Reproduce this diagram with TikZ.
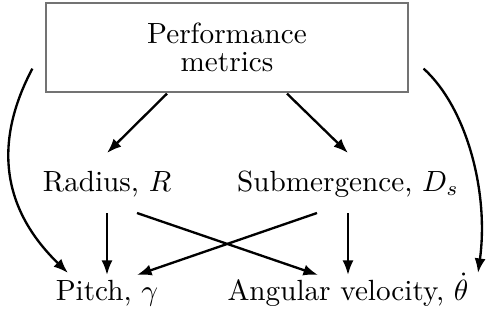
\documentclass[tikz,border=0pt]{standalone}
\usetikzlibrary{calc,arrows.meta}
\begin{document}
\begin{tikzpicture}[x=0.3425pt,y=-0.3425pt,
  conn/.style={line width=0.8pt,-{Latex[length=5pt,width=3.8pt]}},
  metricbox/.style={draw=black!55,line width=0.4pt,minimum width=124pt,minimum height=30.5pt,align=center,inner sep=0pt},
  lbl/.style={anchor=base,inner sep=0pt}]
\useasboundingbox (0,0) rectangle (486,329);
\node[metricbox] (pm) at (227,47.5) {Performance\\[-2.4pt]metrics};
\node[lbl] (R) at (107,191) {Radius, $R$};
\node[lbl] (S) at (348,191) {Submergence, $D_s$};
\node[lbl] (P) at (107,300) {Pitch, $\gamma$};
\node[lbl] (A) at (348,300) {Angular velocity, $\dot\theta$};
\draw[conn] ($(pm.south)+(-60,1)$) -- ($(R.base)+(0,-38)$);
\draw[conn] ($(pm.south)+(60,1)$) -- ($(S.base)+(0,-38)$);
\draw[conn] ($(R.base)+(0,22)$) -- ($(P.base)+(0,-25)$);
\draw[conn] ($(S.base)+(0,22)$) -- ($(A.base)+(0,-25)$);
\draw[conn] ($(R.base)+(30,22)$) -- ($(A.base)+(-30,-25)$);
\draw[conn] ($(S.base)+(-31,22)$) -- ($(P.base)+(30,-25)$);
\draw[conn] ($(pm.south west)+(-13,-24)$) .. controls +(-35,66) and +(-72,-70) .. ($(P.base)+(-39,-27)$);
\draw[conn] ($(pm.south east)+(15,-24)$) .. controls +(44,40) and +(11,-79) .. ($(A.base)+(130,-27)$);
\end{tikzpicture}
\end{document}
